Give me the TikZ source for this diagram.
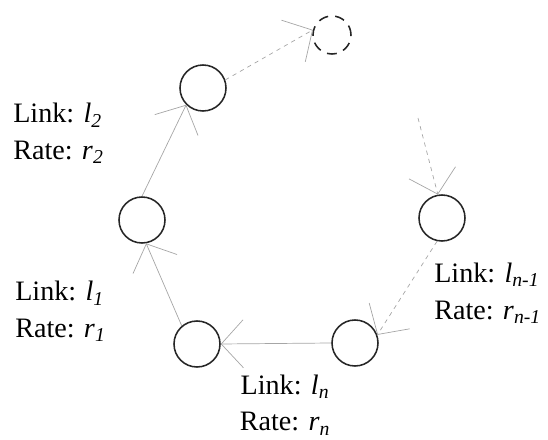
\documentclass[tikz,border=0pt]{standalone}
\usepackage{fontspec}
\setmainfont{Liberation Serif}
\usetikzlibrary{arrows.meta,positioning}

\begin{document}
\begin{tikzpicture}[
  font=\fontsize{20}{26}\selectfont,
  relay/.style={circle,draw=black!85,line width=1.1pt,minimum size=1.15cm,inner sep=0pt},
  ghost/.style={relay,minimum size=0.95cm,dash pattern=on 7pt off 5pt},
  lbl/.style={align=left,anchor=west,inner sep=0pt},
  ln/.style={draw=black!35,line width=0.5pt,-{Straight Barb[length=5.5mm,width=12mm]}},
  dn/.style={ln,dashed}
]
\useasboundingbox (0,0) rectangle (13.7,-11);
\node[relay] (a) at (4.925,-8.6) {};
\node[relay] (b) at (8.875,-8.575) {};
\node[relay] (c) at (3.55,-5.5) {};
\node[relay] (d) at (5.075,-2.2) {};
\node[ghost] (e) at (8.3,-0.875) {};
\node[relay] (f) at (11.05,-5.45) {};
\coordinate (in) at (10.45,-2.95);

\draw[ln] (b.west) -- (a.east);
\draw[ln] (a.130) -- (c.280);
\draw[ln] (c.north) -- (d.225);
\draw[dn] (d.20) -- (e.165);
\draw[dn] (in) -- (f.100);
\draw[dn] (f.258) -- (b.20);

\node[lbl] (l2) at (0.325,-3.34) {Link: \textit{l}\textsubscript{\textit{2}}\\ Rate: \textit{r}\textsubscript{\textit{2}}};
\node[lbl] (l1) at (0.375,-7.79) {Link: \textit{l}\textsubscript{\textit{1}}\\ Rate: \textit{r}\textsubscript{\textit{1}}};
\node[align=center,inner sep=0pt] (ln) at (7.125,-10.12) {Link: \textit{l}\textsubscript{\textit{n}}\\ Rate: \textit{r}\textsubscript{\textit{n}}};
\node[lbl] (lm) at (10.85,-7.33) {Link: \textit{l}\textsubscript{\textit{n-1}}\\ Rate: \textit{r}\textsubscript{\textit{n-1}}};
\end{tikzpicture}
\end{document}
